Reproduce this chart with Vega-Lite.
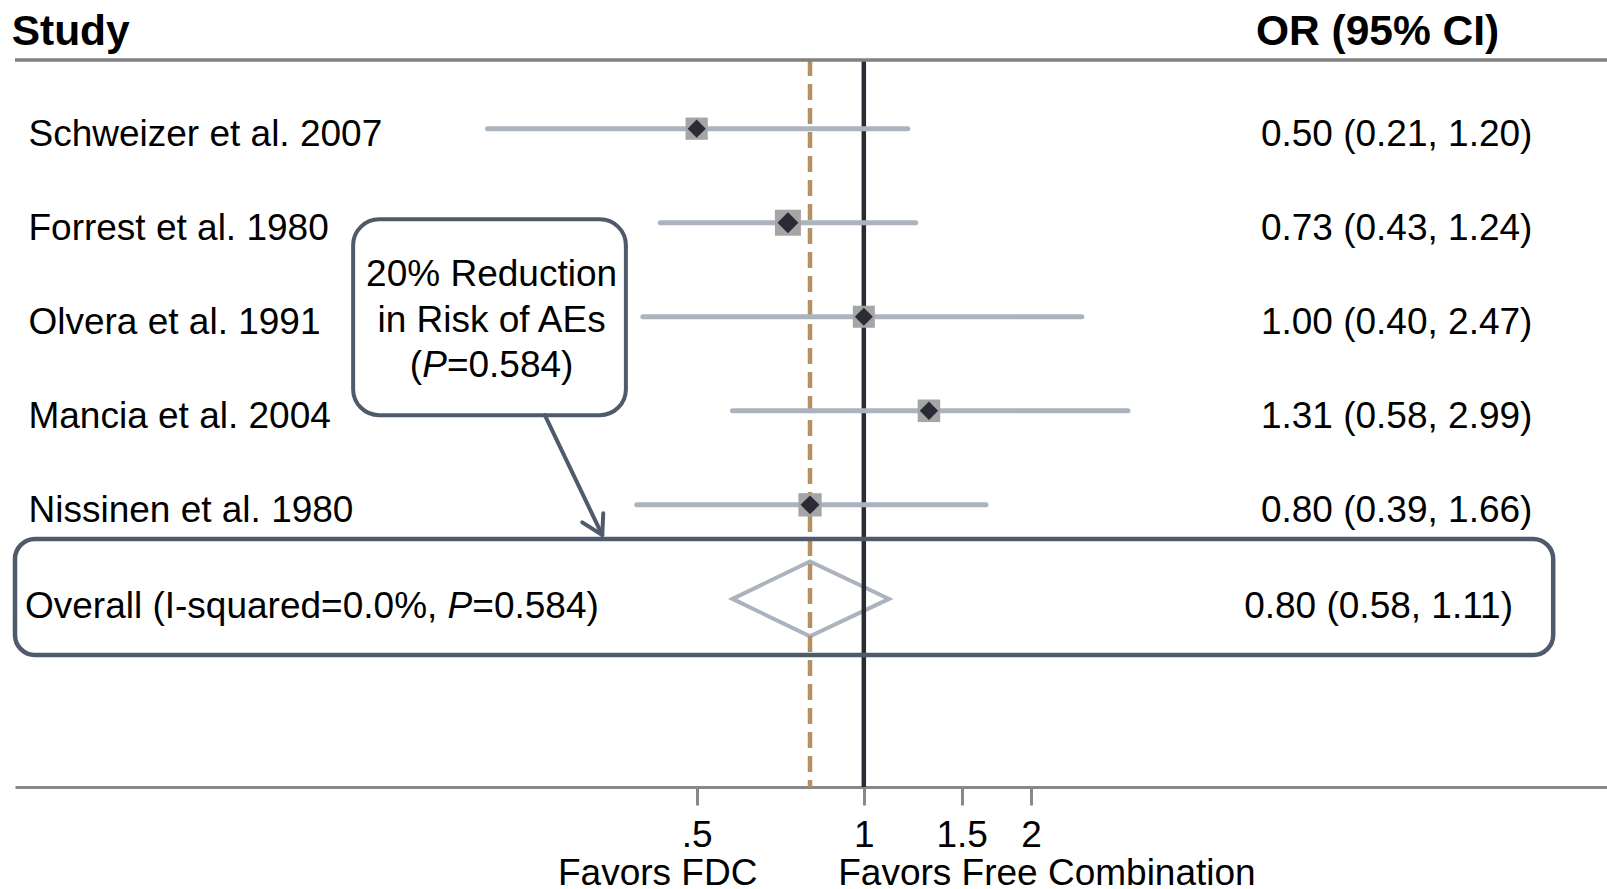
{
  "$schema": "https://vega.github.io/schema/vega-lite/v6.json",
  "width": 1592,
  "height": 727,
  "autosize": {"type": "none"},
  "padding": {"left": 15, "top": 60, "right": 0, "bottom": 102},
  "background": "white",
  "config": {
    "view": {"stroke": null},
    "text": {"font": "Liberation Sans", "fontSize": 37, "color": "#000000"},
    "axisX": {"grid": false, "domainColor": "#888888", "domainWidth": 3, "tickColor": "#888888", "tickWidth": 3, "tickSize": 18,
      "labelFont": "Liberation Sans", "labelFontSize": 37, "labelColor": "#000000", "labelPadding": 12, "labelFlush": false, "labelOverlap": false, "titleFontSize": 1, "titleColor": "#ffffff00"}
  },
  "datasets": {
    "studies": [
      {"study": "Schweizer et al. 2007", "row": 1, "or": 0.50, "lo": 0.21, "hi": 1.20, "label": "0.50 (0.21, 1.20)", "weight": 13.88},
      {"study": "Forrest et al. 1980", "row": 2, "or": 0.73, "lo": 0.43, "hi": 1.24, "label": "0.73 (0.43, 1.24)", "weight": 37.60},
      {"study": "Olvera et al. 1991", "row": 3, "or": 1.00, "lo": 0.40, "hi": 2.47, "label": "1.00 (0.40, 2.47)", "weight": 12.73},
      {"study": "Mancia et al. 2004", "row": 4, "or": 1.31, "lo": 0.58, "hi": 2.99, "label": "1.31 (0.58, 2.99)", "weight": 15.68},
      {"study": "Nissinen et al. 1980", "row": 5, "or": 0.80, "lo": 0.39, "hi": 1.66, "label": "0.80 (0.39, 1.66)", "weight": 20.11}
    ],
    "overall": [
      {"study": "Overall", "row": 6, "or": 0.80, "lo": 0.58, "hi": 1.11, "label": "0.80 (0.58, 1.11)"}
    ],
    "one": [{}]
  },
  "resolve": {"scale": {"size": "independent"}},
  "layer": [
    {
      "data": {"name": "overall"},
      "mark": {"type": "point", "shape": "M -77.5 0 L 0 -37.5 L 79 0 L 0 37.5 Z", "size": 4, "filled": false, "stroke": "#abb3bf", "strokeWidth": 4, "opacity": 1},
      "encoding": {
        "x": {"field": "or", "type": "quantitative", "scale": {"type": "log", "domain": [0.0296, 21.8], "nice": false},
          "axis": {"values": [0.5, 1, 1.5, 2], "labelExpr": "datum.value == 0.5 ? '.5' : format(datum.value, '~g')", "title": " "}},
        "y": {"field": "row", "type": "quantitative", "scale": {"domain": [0.27, 8.0], "nice": false, "zero": false, "reverse": true}, "axis": null}
      }
    },
    {
      "data": {"name": "one"},
      "mark": {"type": "rule", "color": "#2a2b36", "strokeWidth": 4.5},
      "encoding": {
        "x": {"datum": 1, "type": "quantitative", "scale": {"type": "log", "domain": [0.0296, 21.8], "nice": false}}
      }
    },
    {
      "data": {"name": "overall"},
      "mark": {"type": "rule", "color": "#b39162", "strokeWidth": 4.5, "strokeDash": [16, 8]},
      "encoding": {
        "x": {"field": "or", "type": "quantitative", "scale": {"type": "log", "domain": [0.0296, 21.8], "nice": false}}
      }
    },
    {
      "data": {"name": "one"},
      "mark": {"type": "rule", "color": "#808080", "strokeWidth": 3.5},
      "encoding": {
        "y": {"datum": 0.27, "type": "quantitative", "scale": {"domain": [0.27, 8.0], "nice": false, "zero": false, "reverse": true}, "axis": null}
      }
    },
    {
      "data": {"name": "one"},
      "mark": {"type": "rect", "filled": false, "stroke": "#4f5b6b", "strokeWidth": 4.5, "cornerRadius": 20},
      "encoding": {
        "x": {"datum": 0.0296, "type": "quantitative", "scale": {"type": "log", "domain": [0.0296, 21.8], "nice": false}},
        "x2": {"datum": 17.44},
        "y": {"datum": 5.363, "type": "quantitative", "scale": {"domain": [0.27, 8.0], "nice": false, "zero": false, "reverse": true}, "axis": null},
        "y2": {"datum": 6.597}
      }
    },
    {
      "data": {"name": "studies"},
      "mark": {"type": "rule", "color": "#abb3bf", "strokeWidth": 5, "strokeCap": "round"},
      "encoding": {
        "x": {"field": "lo", "type": "quantitative", "scale": {"type": "log", "domain": [0.0296, 21.8], "nice": false}},
        "x2": {"field": "hi"},
        "y": {"field": "row", "type": "quantitative", "scale": {"domain": [0.27, 8.0], "nice": false, "zero": false, "reverse": true}, "axis": null}
      }
    },
    {
      "data": {"name": "studies"},
      "mark": {"type": "point", "shape": "square", "filled": true, "color": "#a5a5a5", "opacity": 1},
      "encoding": {
        "x": {"field": "or", "type": "quantitative", "scale": {"type": "log", "domain": [0.0296, 21.8], "nice": false}},
        "y": {"field": "row", "type": "quantitative", "scale": {"domain": [0.27, 8.0], "nice": false, "zero": false, "reverse": true}, "axis": null},
        "size": {"field": "weight", "type": "quantitative", "scale": {"domain": [12, 38], "range": [480, 680]}, "legend": null}
      }
    },
    {
      "data": {"name": "studies"},
      "mark": {"type": "point", "shape": "diamond", "filled": true, "color": "#2a2b36", "opacity": 1},
      "encoding": {
        "x": {"field": "or", "type": "quantitative", "scale": {"type": "log", "domain": [0.0296, 21.8], "nice": false}},
        "y": {"field": "row", "type": "quantitative", "scale": {"domain": [0.27, 8.0], "nice": false, "zero": false, "reverse": true}, "axis": null},
        "size": {"field": "weight", "type": "quantitative", "scale": {"domain": [12, 38], "range": [320, 440]}, "legend": null}
      }
    },
    {
      "data": {"name": "studies"},
      "mark": {"type": "text", "align": "left", "baseline": "middle", "dy": 6},
      "encoding": {
        "x": {"datum": 0.0313, "type": "quantitative", "scale": {"type": "log", "domain": [0.0296, 21.8], "nice": false}},
        "y": {"field": "row", "type": "quantitative", "scale": {"domain": [0.27, 8.0], "nice": false, "zero": false, "reverse": true}, "axis": null},
        "text": {"field": "study"}
      }
    },
    {
      "data": {"name": "studies"},
      "mark": {"type": "text", "align": "right", "baseline": "middle", "dy": 6},
      "encoding": {
        "x": {"datum": 16.0, "type": "quantitative", "scale": {"type": "log", "domain": [0.0296, 21.8], "nice": false}},
        "y": {"field": "row", "type": "quantitative", "scale": {"domain": [0.27, 8.0], "nice": false, "zero": false, "reverse": true}, "axis": null},
        "text": {"field": "label"}
      }
    },
    {
      "data": {"name": "overall"},
      "mark": {"type": "text", "align": "left", "baseline": "middle", "dy": 8, "text": "Overall (I-squared=0.0%,"},
      "encoding": {
        "x": {"datum": 0.03085, "type": "quantitative", "scale": {"type": "log", "domain": [0.0296, 21.8], "nice": false}},
        "y": {"field": "row", "type": "quantitative", "scale": {"domain": [0.27, 8.0], "nice": false, "zero": false, "reverse": true}, "axis": null}
      }
    },
    {
      "data": {"name": "overall"},
      "mark": {"type": "text", "align": "left", "baseline": "middle", "dy": 8, "dx": 422.6, "fontStyle": "italic", "text": "P"},
      "encoding": {
        "x": {"datum": 0.03085, "type": "quantitative", "scale": {"type": "log", "domain": [0.0296, 21.8], "nice": false}},
        "y": {"field": "row", "type": "quantitative", "scale": {"domain": [0.27, 8.0], "nice": false, "zero": false, "reverse": true}, "axis": null}
      }
    },
    {
      "data": {"name": "overall"},
      "mark": {"type": "text", "align": "left", "baseline": "middle", "dy": 8, "dx": 447.3, "text": "=0.584)"},
      "encoding": {
        "x": {"datum": 0.03085, "type": "quantitative", "scale": {"type": "log", "domain": [0.0296, 21.8], "nice": false}},
        "y": {"field": "row", "type": "quantitative", "scale": {"domain": [0.27, 8.0], "nice": false, "zero": false, "reverse": true}, "axis": null}
      }
    },
    {
      "data": {"name": "overall"},
      "mark": {"type": "text", "align": "right", "baseline": "middle", "dy": 8},
      "encoding": {
        "x": {"datum": 14.76, "type": "quantitative", "scale": {"type": "log", "domain": [0.0296, 21.8], "nice": false}},
        "y": {"field": "row", "type": "quantitative", "scale": {"domain": [0.27, 8.0], "nice": false, "zero": false, "reverse": true}, "axis": null},
        "text": {"field": "label"}
      }
    },
    {
      "data": {"name": "one"},
      "mark": {"type": "rect", "fill": "white", "stroke": "#4f5b6b", "strokeWidth": 4, "cornerRadius": 26},
      "encoding": {
        "x": {"datum": 0.1203, "type": "quantitative", "scale": {"type": "log", "domain": [0.0296, 21.8], "nice": false}},
        "x2": {"datum": 0.3728},
        "y": {"datum": 1.964, "type": "quantitative", "scale": {"domain": [0.27, 8.0], "nice": false, "zero": false, "reverse": true}, "axis": null},
        "y2": {"datum": 4.046}
      }
    },
    {
      "data": {"name": "one"},
      "mark": {"type": "text", "align": "center", "baseline": "middle", "dy": 2, "text": "20% Reduction"},
      "encoding": {
        "x": {"datum": 0.2136, "type": "quantitative", "scale": {"type": "log", "domain": [0.0296, 21.8], "nice": false}},
        "y": {"datum": 2.531, "type": "quantitative", "scale": {"domain": [0.27, 8.0], "nice": false, "zero": false, "reverse": true}, "axis": null}
      }
    },
    {
      "data": {"name": "one"},
      "mark": {"type": "text", "align": "center", "baseline": "middle", "dy": 2, "text": "in Risk of AEs"},
      "encoding": {
        "x": {"datum": 0.2136, "type": "quantitative", "scale": {"type": "log", "domain": [0.0296, 21.8], "nice": false}},
        "y": {"datum": 3.021, "type": "quantitative", "scale": {"domain": [0.27, 8.0], "nice": false, "zero": false, "reverse": true}, "axis": null}
      }
    },
    {
      "data": {"name": "one"},
      "mark": {"type": "text", "align": "right", "baseline": "middle", "dy": 2, "dx": -69.4, "text": "("},
      "encoding": {
        "x": {"datum": 0.2136, "type": "quantitative", "scale": {"type": "log", "domain": [0.0296, 21.8], "nice": false}},
        "y": {"datum": 3.5, "type": "quantitative", "scale": {"domain": [0.27, 8.0], "nice": false, "zero": false, "reverse": true}, "axis": null}
      }
    },
    {
      "data": {"name": "one"},
      "mark": {"type": "text", "align": "left", "baseline": "middle", "dy": 2, "dx": -69.4, "fontStyle": "italic", "text": "P"},
      "encoding": {
        "x": {"datum": 0.2136, "type": "quantitative", "scale": {"type": "log", "domain": [0.0296, 21.8], "nice": false}},
        "y": {"datum": 3.5, "type": "quantitative", "scale": {"domain": [0.27, 8.0], "nice": false, "zero": false, "reverse": true}, "axis": null}
      }
    },
    {
      "data": {"name": "one"},
      "mark": {"type": "text", "align": "left", "baseline": "middle", "dy": 2, "dx": -44.7, "text": "=0.584)"},
      "encoding": {
        "x": {"datum": 0.2136, "type": "quantitative", "scale": {"type": "log", "domain": [0.0296, 21.8], "nice": false}},
        "y": {"datum": 3.5, "type": "quantitative", "scale": {"domain": [0.27, 8.0], "nice": false, "zero": false, "reverse": true}, "axis": null}
      }
    },
    {
      "data": {"name": "one"},
      "mark": {"type": "rule", "color": "#4f5b6b", "strokeWidth": 4, "strokeCap": "round"},
      "encoding": {
        "x": {"datum": 0.2664, "type": "quantitative", "scale": {"type": "log", "domain": [0.0296, 21.8], "nice": false}},
        "x2": {"datum": 0.338},
        "y": {"datum": 4.046, "type": "quantitative", "scale": {"domain": [0.27, 8.0], "nice": false, "zero": false, "reverse": true}, "axis": null},
        "y2": {"datum": 5.321}
      }
    },
    {
      "data": {"name": "one"},
      "mark": {"type": "point", "shape": "M -20 -12.7 L 0 0 L 1 -21.7", "size": 4, "filled": false, "stroke": "#4f5b6b", "strokeWidth": 4, "strokeCap": "round", "strokeJoin": "round", "opacity": 1},
      "encoding": {
        "x": {"datum": 0.338, "type": "quantitative", "scale": {"type": "log", "domain": [0.0296, 21.8], "nice": false}},
        "y": {"datum": 5.321, "type": "quantitative", "scale": {"domain": [0.27, 8.0], "nice": false, "zero": false, "reverse": true}, "axis": null}
      }
    },
    {
      "data": {"name": "one"},
      "mark": {"type": "text", "align": "left", "baseline": "middle", "fontWeight": "bold", "fontSize": 42.5, "text": "Study"},
      "encoding": {
        "x": {"datum": 0.02919, "type": "quantitative", "scale": {"type": "log", "domain": [0.0296, 21.8], "nice": false}},
        "y": {"datum": -0.032, "type": "quantitative", "scale": {"domain": [0.27, 8.0], "nice": false, "zero": false, "reverse": true}, "axis": null}
      }
    },
    {
      "data": {"name": "one"},
      "mark": {"type": "text", "align": "center", "baseline": "middle", "fontWeight": "bold", "fontSize": 42.5, "text": "OR (95% CI)"},
      "encoding": {
        "x": {"datum": 8.42, "type": "quantitative", "scale": {"type": "log", "domain": [0.0296, 21.8], "nice": false}},
        "y": {"datum": -0.032, "type": "quantitative", "scale": {"domain": [0.27, 8.0], "nice": false, "zero": false, "reverse": true}, "axis": null}
      }
    },
    {
      "data": {"name": "one"},
      "mark": {"type": "text", "align": "center", "baseline": "middle", "text": "Favors FDC"},
      "encoding": {
        "x": {"datum": 0.4254, "type": "quantitative", "scale": {"type": "log", "domain": [0.0296, 21.8], "nice": false}},
        "y": {"datum": 8.92, "type": "quantitative", "scale": {"domain": [0.27, 8.0], "nice": false, "zero": false, "reverse": true}, "axis": null}
      }
    },
    {
      "data": {"name": "one"},
      "mark": {"type": "text", "align": "center", "baseline": "middle", "text": "Favors Free Combination"},
      "encoding": {
        "x": {"datum": 2.137, "type": "quantitative", "scale": {"type": "log", "domain": [0.0296, 21.8], "nice": false}},
        "y": {"datum": 8.92, "type": "quantitative", "scale": {"domain": [0.27, 8.0], "nice": false, "zero": false, "reverse": true}, "axis": null}
      }
    }
  ]
}
